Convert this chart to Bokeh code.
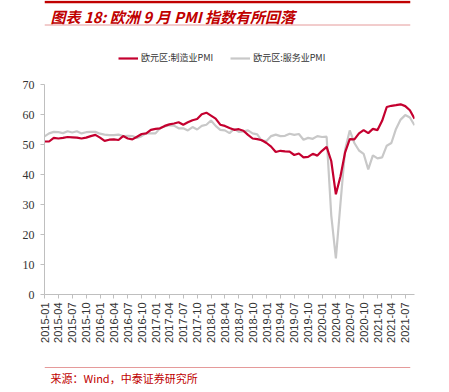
from bokeh.plotting import figure
from bokeh.models import Label, Span, FixedTicker, Legend, LegendItem, Range1d
from bokeh.layouts import column
from bokeh.embed import file_html
from bokeh.resources import INLINE

# Data: monthly 2015-01 .. 2021-09
months = [f"{y}-{m:02d}" for y in range(2015, 2022) for m in range(1, 13)][:81]
manufacturing = [
    51.0, 51.0, 52.2, 52.0, 52.2, 52.5, 52.4, 52.3, 52.0, 52.3, 52.8, 53.2,
    52.3, 51.2, 51.6, 51.7, 51.5, 52.8, 52.0, 51.7, 52.6, 53.5, 53.7, 54.9,
    55.2, 55.4, 56.2, 56.7, 57.0, 57.4, 56.6, 57.4, 58.1, 58.5, 60.1, 60.6,
    59.6, 58.6, 56.6, 56.2, 55.5, 54.9, 55.1, 54.6, 53.2, 52.0, 51.8, 51.4,
    50.5, 49.3, 47.5, 47.9, 47.7, 47.6, 46.5, 47.0, 45.7, 45.9, 46.9, 46.3,
    47.9, 49.2, 44.5, 33.4, 39.4, 47.4, 51.8, 51.7, 53.7, 54.8, 53.8, 55.2,
    54.8, 57.9, 62.5, 62.9, 63.1, 63.4, 62.8, 61.4, 58.6,
]
services = [
    52.7, 53.7, 54.2, 54.1, 53.8, 54.4, 54.0, 54.4, 53.7, 54.1, 54.2, 54.2,
    53.6, 53.3, 53.1, 53.1, 53.3, 52.8, 52.9, 52.8, 52.2, 52.8, 53.8, 53.7,
    53.7, 55.5, 56.0, 56.4, 56.3, 55.4, 55.4, 54.7, 55.8, 55.0, 56.2, 56.6,
    58.0, 56.2, 54.9, 54.7, 53.8, 55.2, 54.2, 54.4, 54.7, 53.7, 53.4, 51.2,
    51.2, 52.8, 53.3, 52.8, 52.9, 53.6, 53.2, 53.5, 51.6, 52.2, 51.9, 52.8,
    52.5, 52.6, 26.4, 12.0, 30.5, 48.3, 54.7, 50.5, 48.0, 46.9, 41.7, 46.4,
    45.4, 45.7, 49.6, 50.5, 55.2, 58.3, 59.8, 59.0, 56.4,
]
series_names = ["欧元区:制造业PMI", "欧元区:服务业PMI"]
tick_idx = list(range(0, 81, 3))
tick_labels = [months[i] for i in tick_idx]
y_ticks = [0, 10, 20, 30, 40, 50, 60, 70]
title_text = "图表 18: 欧洲 9 月 PMI 指数有所回落"
source_text = "来源：Wind，中泰证券研究所"

x = list(range(len(months)))
nan = float("nan")

RED = "#C4002F"
GRAY = "#C8C8C8"
TITLE_RED = "#C00000"
RULE_PINK = "#E59A9A"
CJK = "Noto Sans CJK SC"


def blank(fig):
    fig.outline_line_color = None
    fig.xgrid.visible = False
    fig.ygrid.visible = False
    fig.axis.visible = False
    fig.border_fill_color = "white"
    fig.background_fill_color = "white"


# ---------- header (title + legend) ----------
head = figure(width=429, height=70, output_backend="svg", toolbar_location=None,
              x_range=Range1d(0, 429), y_range=Range1d(70, 0),
              min_border=0, min_border_left=0, min_border_right=0,
              min_border_top=0, min_border_bottom=0)
blank(head)
head.add_layout(Span(location=1.5, dimension="width", line_color=TITLE_RED, line_width=2.5))
head.add_layout(Span(location=24.5, dimension="width", line_color=RULE_PINK, line_width=1))
head.add_layout(Label(x=7, y=16, text=title_text, text_font=CJK, text_font_size="15px",
                      text_font_style="bold italic", text_color=TITLE_RED,
                      text_baseline="middle"))
d_manu = head.line(x=[nan], y=[nan], line_color=RED, line_width=2.2)
d_serv = head.line(x=[nan], y=[nan], line_color=GRAY, line_width=2.2)
legend = Legend(items=[LegendItem(label=series_names[0], renderers=[d_manu]),
                       LegendItem(label=series_names[1], renderers=[d_serv])],
                orientation="horizontal", location=(74, 6),
                label_text_font=CJK, label_text_font_size="9px",
                label_text_color="#333333", glyph_width=20, glyph_height=10,
                label_standoff=3, spacing=17, padding=0, margin=0,
                border_line_color=None, background_fill_alpha=0)
head.add_layout(legend, "center")

# ---------- main chart ----------
p = figure(width=433, height=284, output_backend="svg", toolbar_location=None,
           x_range=Range1d(0, 80), y_range=Range1d(0, 70),
           min_border_left=44, min_border_right=19, min_border_top=14, min_border_bottom=60)
p.outline_line_color = None
p.xgrid.visible = False
p.ygrid.visible = False
p.background_fill_color = "white"
p.border_fill_color = "white"

p.line(x, services, line_color=GRAY, line_width=2.2)
p.line(x, manufacturing, line_color=RED, line_width=2.2)

p.xaxis.ticker = FixedTicker(ticks=tick_idx)
p.xaxis.major_label_overrides = {i: lab for i, lab in zip(tick_idx, tick_labels)}
p.xaxis.major_label_orientation = 1.5708
p.xaxis.minor_tick_line_color = None
p.xaxis.major_label_text_font = "Liberation Sans"
p.xaxis.major_label_text_font_size = "11px"
p.xaxis.major_label_text_color = "#333333"
p.xaxis.axis_line_color = "#BFBFBF"
p.xaxis.major_tick_line_color = "#BFBFBF"
p.xaxis.major_tick_out = 4
p.xaxis.major_tick_in = 0
p.xaxis.major_label_standoff = 4

p.yaxis.ticker = FixedTicker(ticks=y_ticks)
p.yaxis.minor_tick_line_color = None
p.yaxis.major_label_text_font = "Liberation Sans Narrow"
p.yaxis.major_label_text_font_size = "12px"
p.yaxis.major_label_text_color = "#333333"
p.yaxis.axis_line_color = "#BFBFBF"
p.yaxis.major_tick_line_color = "#BFBFBF"
p.yaxis.major_tick_out = 4
p.yaxis.major_tick_in = 0
p.yaxis.major_label_standoff = 6

# ---------- footer (source) ----------
foot = figure(width=429, height=32, output_backend="svg", toolbar_location=None,
              x_range=Range1d(0, 429), y_range=Range1d(32, 0),
              min_border=0, min_border_left=0, min_border_right=0,
              min_border_top=0, min_border_bottom=0)
blank(foot)
foot.add_layout(Span(location=13, dimension="width", line_color=RULE_PINK, line_width=1))
foot.add_layout(Label(x=7, y=23, text=source_text, text_font=CJK, text_font_size="11px",
                      text_color=TITLE_RED, text_baseline="middle"))

layout = column(head, p, foot, spacing=0)
open("out.html", "w").write(file_html(layout, INLINE))
